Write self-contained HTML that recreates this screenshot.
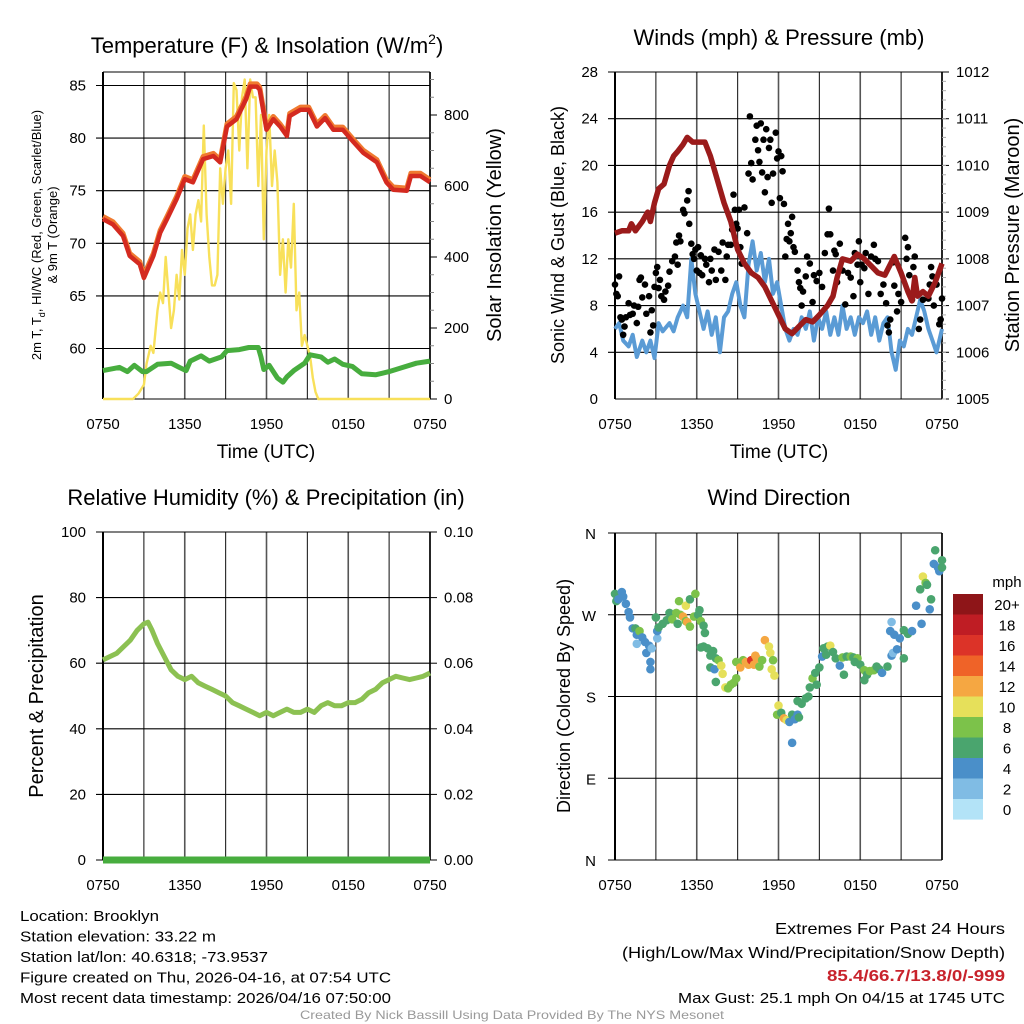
<!DOCTYPE html>
<html><head><meta charset="utf-8"><style>
html,body{margin:0;padding:0;background:#fff;}
svg{display:block;font-family:"Liberation Sans",sans-serif;}
</style></head><body>
<svg id="c" width="1024" height="1024" viewBox="0 0 1024 1024" xmlns="http://www.w3.org/2000/svg"></svg>
<script>
// ---------------- data ----------------
const timeTicks = ["0750","1350","1950","0150","0750"];
const tempH = [0,0.73,1.47,1.96,2.7,3.0,3.7,4.2,4.7,5.4,6.0,6.6,7.35,8.1,8.6,9.1,9.8,10.5,10.8,11.3,11.5,12.0,12.5,13.0,13.5,13.7,14.5,15.1,15.7,16.3,16.9,17.6,18.4,19.1,20.1,20.8,21.3,22.3,22.6,23.3,24];
const tempV = [72.3,71.8,70.7,68.8,68,66.7,68.8,71,72.3,74.2,76.1,75.8,78,78.3,77.7,81.1,81.8,83.7,84.9,84.9,84.6,80.8,81.8,81.1,80.2,82.1,82.7,82.7,81.1,81.9,80.8,80.8,79.6,78.6,77.7,75.8,75.1,75,76.4,76.4,75.8];
const dewH = [0,1.2,1.8,2.3,2.9,3.2,4.0,5.0,5.6,6.1,6.4,7.2,7.8,8.7,9.1,10,10.7,11.4,11.6,11.8,12.2,12.8,13.2,13.5,14.0,14.8,15.2,16,16.5,17,17.6,18.3,19.0,20,21,22,23,24];
const dewV = [57.9,58.2,57.8,58.4,57.8,57.8,58.5,58.6,58.2,57.9,58.8,59.3,58.8,59.2,59.8,59.9,60.1,60.1,59.2,58.0,58.4,57.2,56.8,57.3,57.9,58.6,59.4,59.2,58.7,59.0,58.5,58.3,57.6,57.5,57.8,58.2,58.6,58.8];
const solarH = [0,2.2,2.6,3.0,3.2,3.5,3.7,4.0,4.2,4.4,4.6,4.8,5.0,5.2,5.4,5.6,5.8,6.0,6.2,6.4,6.6,6.8,7.0,7.2,7.4,7.6,7.8,8.0,8.2,8.4,8.6,8.8,9.0,9.2,9.4,9.6,9.8,10.0,10.2,10.4,10.6,10.8,11.0,11.2,11.4,11.6,11.8,12.0,12.2,12.4,12.6,12.8,13.0,13.2,13.4,13.6,13.8,14.0,14.2,14.4,14.6,14.8,15.0,15.2,15.4,15.6,15.8,24];
const solarV = [0,0,15,40,100,150,130,250,300,270,400,300,200,250,350,280,420,350,480,520,420,520,560,500,770,520,400,320,320,350,650,550,650,700,550,890,870,700,850,900,650,900,850,850,600,800,450,700,800,600,700,610,350,450,300,450,370,550,250,300,150,180,150,120,60,20,0,0];
const presH = [0,0.5,1.0,1.2,1.5,2.0,2.4,2.6,2.9,3.2,3.6,4.0,4.3,4.6,5.0,5.3,5.7,6.2,6.6,7.0,7.5,8.0,8.5,9.0,9.5,10,10.5,11,11.5,12,12.5,13,13.5,14,14.5,15,15.6,16.0,16.3,16.7,17.3,17.8,18.3,18.8,19.3,19.8,20.5,21.0,21.5,21.8,22.0,22.2,22.6,23.0,23.5,24];
const presV = [1008.55,1008.6,1008.6,1008.75,1008.6,1008.8,1009.0,1008.8,1009.2,1009.5,1009.6,1010.0,1010.2,1010.3,1010.45,1010.6,1010.5,1010.5,1010.5,1010.2,1009.7,1009.2,1008.8,1008.2,1007.9,1007.7,1007.6,1007.4,1007.1,1006.8,1006.5,1006.4,1006.55,1006.7,1006.65,1006.8,1007.0,1007.2,1007.6,1008.0,1007.95,1008.1,1008.0,1007.85,1007.7,1007.65,1008.05,1007.7,1007.3,1007.1,1007.6,1007.2,1007.3,1007.2,1007.5,1007.9];
const windH = [0,0.3,0.6,1,1.3,1.6,2,2.3,2.6,2.9,3.2,3.5,4,4.3,4.6,5,5.3,5.6,5.9,6.2,6.5,6.8,7.1,7.4,7.7,8,8.3,8.6,8.9,9.2,9.5,9.8,10.1,10.4,10.7,11,11.3,11.6,11.9,12.2,12.5,12.8,13.1,13.4,13.7,14,14.3,14.6,14.9,15.2,15.5,15.8,16.1,16.4,16.7,17,17.3,17.6,17.9,18.2,18.5,18.8,19.1,19.4,19.7,20,20.3,20.6,20.9,21.2,21.5,21.8,22.1,22.4,22.7,23,23.3,23.6,24];
const windV = [6,6.5,5,4.5,5.5,3.6,5,4,5,3.5,6.5,5.8,6.5,5.8,7,8,7,12,9,7.5,6,7.5,5.5,7,4,7,7.5,9,10,8,7,11.5,13.5,11,12.5,10,12,9,10,8,6,5,6,5.5,7,6,7.5,5,7,6,7.5,5.5,7,5.5,8,6,7,5.5,7,6.5,7.5,5.5,7,5,6.5,7,4,2.5,5,4.5,6,5.5,7,8.5,7.5,6,5,4,6];
const gustH = [0,0.1,0.2,0.3,0.4,0.5,0.6,0.7,0.8,1.0,1.1,1.3,1.4,1.6,1.7,1.8,1.9,2.0,2.2,2.3,2.5,2.6,2.7,2.8,2.9,3.0,3.1,3.2,3.3,3.4,3.6,3.7,3.9,4.0,4.2,4.4,4.5,4.6,4.7,4.8,5.0,5.1,5.3,5.4,5.45,5.6,5.7,5.8,5.9,6.0,6.1,6.2,6.3,6.4,6.6,6.7,6.9,7.0,7.1,7.3,7.4,7.6,7.8,7.9,8.1,8.2,8.3,8.5,8.6,8.7,8.8,8.9,9.0,9.1,9.2,9.3,9.5,9.7,9.8,9.9,10.0,10.1,10.3,10.4,10.5,10.6,10.7,10.8,10.9,11.0,11.1,11.2,11.3,11.4,11.5,11.6,11.8,11.9,12.0,12.1,12.2,12.3,12.4,12.5,12.6,12.7,12.8,12.9,13.0,13.1,13.2,13.4,13.5,13.6,13.7,13.8,14.0,14.1,14.3,14.5,14.6,14.8,15.0,15.2,15.4,15.6,15.7,15.8,16.0,16.1,16.2,16.3,16.5,16.7,16.9,17.1,17.3,17.5,17.6,17.8,17.9,18.0,18.1,18.3,18.4,18.6,18.8,19.0,19.1,19.3,19.5,19.7,19.9,20.0,20.1,20.2,20.4,20.5,20.7,20.8,21.0,21.3,21.4,21.5,21.6,21.8,21.9,22.0,22.3,22.4,22.6,23.0,23.1,23.2,23.3,23.4,23.6,23.8,23.9,24];
const gustV = [9.8,9,8.8,10.5,7,6.8,5.5,6.2,7,8.2,7.2,7.3,8,6.5,7.9,10.2,10.4,8.7,9.8,7.3,8.8,5.7,7.6,6.3,9.6,10.8,11.3,9.5,10.2,8.8,8.5,9.2,9.7,10.9,11.8,12.2,13.4,11.5,14,13.5,16.2,15.9,17,17.8,15,13.3,12.4,12,12.8,11,13,10.8,12.3,10.6,12,11.5,10,12,11,12.8,10.2,12.6,11,13.4,10.2,12.2,13.2,13.2,14.5,17.5,16.2,15,14.6,16.2,13,11.6,16.4,14.2,19.3,24.2,20.2,18.8,22.2,23.4,21.3,20.3,23.6,19.4,22.2,17.7,23.1,19,21.5,22.2,16.8,19.3,22.8,20.6,21.2,17.2,20.8,19.5,16.7,12.2,13.7,15,13.5,14.2,15.6,13,12.6,11,10,9.5,8,9.2,10.5,12.2,11.6,8.3,10.6,10.1,10.8,9.6,12.5,14.1,16.3,14.1,11,12.7,12.4,10,13.3,11,8.1,10.8,10.4,8.8,12.5,11.5,13.5,10,11.5,11.2,12.5,9,12.2,13.2,12,11.8,9,9.8,8.2,6.3,5.7,6.8,11.7,9.7,7.5,9,8.3,13.8,12,13,10.6,8.5,11.3,12.2,6,6.8,8.5,8.6,9.8,11.3,10.5,8,9.8,6.4,6.8,8.6];
const rhH = [0,1,2,2.5,3,3.3,3.6,4,4.5,5,5.5,6,6.5,7,7.5,8,8.5,9,9.5,10,10.5,11,11.5,12,12.5,13,13.5,14,14.5,15,15.5,16,16.5,17,17.5,18,18.5,19,19.5,20,20.5,21,21.5,22,22.5,23,23.5,24];
const rhV = [61,63,67,70,72,72.5,70,66,62,58,56,55,56,54,53,52,51,50,48,47,46,45,44,45,44,45,46,45,45,46,45,47,48,47,47,48,48,49,51,52,54,55,56,55.5,55,55.5,56,57];
const precipH = [0,24];
const precipV = [0,0];
const dirH = [0,0.1,0.25,0.5,0.6,0.8,1.0,1.1,1.3,1.5,1.6,1.8,1.6,2.0,2.2,2.3,2.5,2.7,2.6,2.6,3.1,3.1,3.0,3.2,3.5,3.8,4.0,4.2,4.5,4.6,4.8,4.7,5.0,5.2,5.3,5.5,5.2,5.5,5.8,5.9,6.1,6.2,6.3,6.5,6.6,6.3,6.5,6.8,7.0,7.2,7.4,7.0,7.3,7.6,7.8,7.4,7.9,8.1,8.3,8.5,8.7,8.9,8.9,9.2,9.4,9.6,9.8,10.0,10.2,10.4,10.6,10.3,10.8,11.0,11.3,11.4,11.6,11.5,11.7,12.0,11.9,12.2,12.4,12.6,12.8,13.0,13.2,13.4,13.0,13.5,13.4,13.7,14.0,14.2,14.3,14.5,14.8,14.7,15.0,15.2,15.3,15.6,15.8,15.5,16.0,16.2,16.5,16.7,17.0,16.8,17.3,17.5,17.8,17.6,18.0,18.3,18.5,18.7,18.3,19.0,19.2,19.4,19.6,20.0,20.3,20.4,20.2,20.3,20.5,20.7,20.9,21.2,21.5,21.2,21.8,22.1,22.5,22.4,22.6,22.8,22.9,23.1,23.2,23.4,23.5,23.7,23.8,24,24];
const dirV = [293,285,287,295,290,282,273,267,255,255,248,252,238,245,240,228,236,233,218,210,244,252,267,256,260,264,272,265,272,260,270,285,268,263,262,257,280,287,268,293,270,275,263,258,250,234,235,233,225,230,222,212,210,220,214,196,205,190,189,193,195,200,218,212,220,218,215,220,215,222,213,225,220,242,235,228,220,210,203,170,160,162,156,154,152,160,155,160,129,157,175,172,178,180,190,200,193,206,212,224,233,235,236,226,229,222,214,223,224,204,224,223,222,218,215,209,204,208,198,209,213,210,206,213,225,228,252,262,248,232,244,253,249,222,252,280,260,298,312,305,303,276,287,326,341,322,318,330,322];
const dirSpd = [6,6,4,4,4,4,4,4,4,6,4,8,2,4,4,4,4,2,4,4,2,4,6,6,6,6,6,8,8,6,8,8,12,8,12,8,10,6,8,8,6,6,8,6,6,6,6,6,6,6,6,6,4,8,10,6,10,10,8,8,8,8,8,12,8,12,12,16,12,12,8,12,8,12,10,10,8,10,10,10,8,6,12,10,4,6,4,4,4,6,6,6,6,6,6,8,6,6,6,4,6,6,10,6,6,6,4,8,6,6,8,6,8,6,6,8,6,8,6,8,6,6,4,6,4,2,4,2,4,4,4,6,6,6,4,4,4,6,10,8,6,4,6,4,6,4,4,6,6];
const cbLabels = ["20+","18","16","14","12","10","8","6","4","2","0"];
const cbColors = ["#8e1518","#bf1d24","#dc3328","#ef6328","#f5a742","#e6e05a","#7cc24a","#4aa56e","#4a8fc9","#80bce4","#b3e3f7"];

// ---------------- helpers ----------------
const NS="http://www.w3.org/2000/svg";
const svg=document.getElementById('c');
function mk(tag,attrs,parent){const e=document.createElementNS(NS,tag);for(const k in attrs)e.setAttribute(k,attrs[k]);(parent||svg).appendChild(e);return e;}
function txt(s,x,y,size,anchor,name,extra){const e=mk('text',Object.assign({x:x,y:y,'font-size':size,'text-anchor':anchor||'middle',fill:'#000'},extra||{}));e.textContent=s;


return e;}
function vtxt(s,x,y,size,name){const e=txt(s,0,0,size,'middle',name,{transform:'translate('+x+','+y+') rotate(-90)'});return e;}
function linePath(hs,vs,sx,sy){let d='';for(let i=0;i<hs.length;i++){d+=(i?'L':'M')+sx(hs[i]).toFixed(1)+','+sy(vs[i]).toFixed(1);}return d;}

function frame(x0,x1,y0,y1,yTicks,sy,name){
  const g=mk('g',{});
  
  
  for(let i=0;i<=8;i++){const x=x0+(x1-x0)*i/8;mk('line',{x1:x,y1:y0,x2:x,y2:y1,stroke:(i%2? '#222':'#555'),'stroke-width':(i%2?1.1:1.6)},g);}
  yTicks.forEach(v=>{const y=sy(v);mk('line',{x1:x0-7,y1:y,x2:x1,y2:y,stroke:'#000','stroke-width':1.1},g);});
  mk('line',{x1:x0,y1:y0,x2:x1,y2:y0,stroke:'#000','stroke-width':1},g);
  mk('line',{x1:x0,y1:y0,x2:x0,y2:y1,stroke:'#000','stroke-width':2},g);
  mk('line',{x1:x1,y1:y0,x2:x1,y2:y1,stroke:'#000','stroke-width':1.5},g);
  mk('line',{x1:x0,y1:y1,x2:x1,y2:y1,stroke:'#000','stroke-width':1},g);
  for(let i=0;i<5;i++){txt(timeTicks[i],x0+(x1-x0)*i/4,y1+30,15,'middle','x-tick-label');}
  return g;
}

// ---------------- panel 1: temperature ----------------
{
const x0=103,x1=430,y0=72,y1=399;
const sx=h=>x0+(x1-x0)*h/24;
const sy=v=>399-(v-55.2)*52.6/5;
const sr=v=>399-v*71/200;
frame(x0,x1,y0,y1,[60,65,70,75,80,85],sy,'temperature-panel');
[60,65,70,75,80,85].forEach(v=>txt(String(v),86,sy(v)+5,15,'end','left-tick-label'));
[0,200,400,600,800].forEach(v=>{mk('line',{x1:x1,y1:sr(v),x2:x1+7,y2:sr(v),stroke:'#000'});txt(String(v),x1+14,sr(v)+5,15,'start','right-tick-label');});
for(let v=50;v<=900;v+=50){if(v%200)mk('line',{x1:x1,y1:sr(v),x2:x1+4,y2:sr(v),stroke:'#888'});}
let p;
p=mk('path',{d:linePath(solarH,solarV,sx,sr),fill:'none',stroke:'#f8e05a','stroke-width':2.4,'stroke-linejoin':'round'});

p=mk('path',{d:linePath(tempH,tempV.map(v=>v+0.25),sx,sy),fill:'none',stroke:'#f07a30','stroke-width':5,'stroke-linejoin':'round'});

p=mk('path',{d:linePath(tempH,tempV,sx,sy),fill:'none',stroke:'#d42a20','stroke-width':4.5,'stroke-linejoin':'round'});

p=mk('path',{d:linePath(dewH,dewV,sx,sy),fill:'none',stroke:'#47ad3e','stroke-width':5,'stroke-linejoin':'round'});

const t=txt('',267,53,22,'middle','temperature-title');t.innerHTML='Temperature (F) &amp; Insolation (W/m<tspan dy="-9" font-size="14">2</tspan><tspan dy="9">)</tspan>';
txt('Time (UTC)',266,458,19,'middle','x-axis-title');
const l=vtxt('',41,235,13,'temperature-y-title');l.innerHTML='2m T, T<tspan dy="4" font-size="9">d</tspan><tspan dy="-4">, HI/WC (Red, Green, Scarlet/Blue)</tspan>';
vtxt('& 9m T (Orange)',57,235,13,'temperature-y-title-2');
vtxt('Solar Insolation (Yellow)',501,235,20,'solar-y-title');
}

// ---------------- panel 2: winds ----------------
{
const x0=615,x1=942,y0=72,y1=399;
const sx=h=>x0+(x1-x0)*h/24;
const sy=v=>399-v*(327/28);
const sp=v=>399-(v-1005)*(327/7);
frame(x0,x1,y0,y1,[4,8,12,16,20,24,28],sy,'winds-panel');
[0,4,8,12,16,20,24,28].forEach(v=>txt(String(v),598,sy(v)+5,15,'end','left-tick-label'));
[1005,1006,1007,1008,1009,1010,1011,1012].forEach(v=>{mk('line',{x1:x1,y1:sp(v),x2:x1+7,y2:sp(v),stroke:'#000'});txt(String(v),x1+14,sp(v)+5,15,'start','right-tick-label');});
for(let v=1005;v<1012;v+=0.2){mk('line',{x1:x1,y1:sp(v),x2:x1+4,y2:sp(v),stroke:'#aaa'});}
let p=mk('path',{d:linePath(windH,windV,sx,sy),fill:'none',stroke:'#5a9bd5','stroke-width':4,'stroke-linejoin':'round'});

const g=mk('g',{});
for(let i=0;i<gustH.length;i++){const c=mk('circle',{cx:sx(gustH[i]),cy:sy(gustV[i]),r:3.3,fill:'#000'},g);

}
p=mk('path',{d:linePath(presH,presV,sx,sp),fill:'none',stroke:'#9b1b1b','stroke-width':5.5,'stroke-linejoin':'round'});

txt('Winds (mph) & Pressure (mb)',779,45,22,'middle','winds-title');
txt('Time (UTC)',779,458,19,'middle','x-axis-title');
vtxt('Sonic Wind & Gust (Blue, Black)',564,235,18,'wind-y-title');
vtxt('Station Pressure (Maroon)',1019,235,20,'pressure-y-title');
}

// ---------------- panel 3: RH ----------------
{
const x0=103,x1=430,y0=532,y1=860;
const sx=h=>x0+(x1-x0)*h/24;
const sy=v=>860-v*3.28;
const sp=v=>860-v*3280;
frame(x0,x1,y0,y1,[0,20,40,60,80,100],sy,'humidity-panel');
[0,20,40,60,80,100].forEach(v=>txt(String(v),86,sy(v)+5,15,'end','left-tick-label'));
[0,0.02,0.04,0.06,0.08,0.10].forEach(v=>{mk('line',{x1:x1,y1:sp(v),x2:x1+7,y2:sp(v),stroke:'#000'});txt(v.toFixed(2),x1+14,sp(v)+5,15,'start','right-tick-label');});
let p=mk('path',{d:linePath(rhH,rhV,sx,sy),fill:'none',stroke:'#8cc152','stroke-width':5,'stroke-linejoin':'round'});

p=mk('path',{d:linePath(precipH,precipV,sx,sp),fill:'none',stroke:'#47ad3e','stroke-width':7});

txt('Relative Humidity (%) & Precipitation (in)',266,505,22,'middle','humidity-title');
vtxt('Percent & Precipitation',43,696,20,'humidity-y-title');
}

// ---------------- panel 4: wind direction ----------------
{
const x0=615,x1=942,y0=533,y1=860;
const sx=h=>x0+(x1-x0)*h/24;
const sy=v=>860-v*(327/360);
frame(x0,x1,y0,y1,[0,90,180,270,360],sy,'wind-direction-panel');
[["N",0],["E",90],["S",180],["W",270],["N",360]].forEach(a=>txt(a[0],596,sy(a[1])+6,15,'end','direction-tick-label'));
const colorFor=s=>cbColors[10-Math.min(10,Math.floor(s/2))];
const g=mk('g',{});
for(let i=0;i<dirH.length;i++){const c=mk('circle',{cx:sx(dirH[i]),cy:sy(dirV[i]),r:4.3,fill:colorFor(dirSpd[i])},g);

}
txt('Wind Direction',779,505,22,'middle','direction-title');
vtxt('Direction (Colored By Speed)',570,696,18,'direction-y-title');
const cb=mk('g',{});
for(let i=0;i<11;i++){const r=mk('rect',{x:953,y:594+i*20.5,width:30,height:20.6,fill:cbColors[i]},cb);


txt(cbLabels[i],1007,594+i*20.5+16,15,'middle','colorbar-label');}
txt('mph',1007,587,15,'middle','colorbar-title');
}

// ---------------- footer ----------------
const left=["Location: Brooklyn","Station elevation: 33.22 m","Station lat/lon: 40.6318; -73.9537","Figure created on Thu, 2026-04-16, at 07:54 UTC","Most recent data timestamp: 2026/04/16 07:50:00"];
const lw=[139,196,248,371,371];
left.forEach((s,i)=>txt(s,20,921+i*20.5,15,'start','station-info-line',{textLength:lw[i],lengthAdjust:'spacingAndGlyphs'}));
txt('Extremes For Past 24 Hours',1005,934,16,'end','extremes-title',{textLength:230,lengthAdjust:'spacingAndGlyphs'});
txt('(High/Low/Max Wind/Precipitation/Snow Depth)',1005,958,16,'end','extremes-subtitle',{textLength:383,lengthAdjust:'spacingAndGlyphs'});
txt('85.4/66.7/13.8/0/-999',1005,981,16,'end','extremes-values',{fill:'#c8232c','font-weight':'bold',textLength:178,lengthAdjust:'spacingAndGlyphs'});
txt('Max Gust: 25.1 mph On 04/15 at 1745 UTC',1005,1003,15,'end','max-gust',{textLength:327,lengthAdjust:'spacingAndGlyphs'});
txt('Created By Nick Bassill Using Data Provided By The NYS Mesonet',512,1019,12,'middle','credit',{fill:'#999',textLength:424,lengthAdjust:'spacingAndGlyphs'});
</script>
</body></html>
